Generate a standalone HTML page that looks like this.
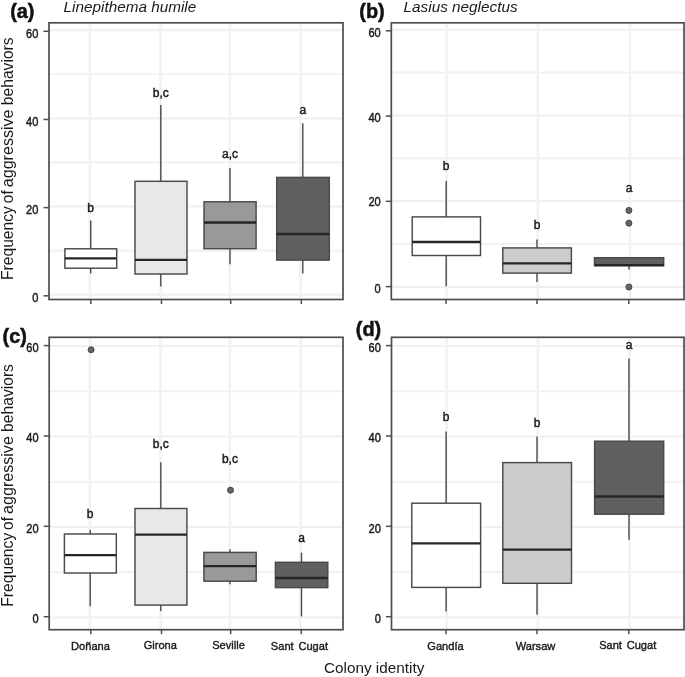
<!DOCTYPE html>
<html><head><meta charset="utf-8"><style>
html,body{margin:0;padding:0;background:#fff;}
svg{display:block;filter:grayscale(1);}
text{font-family:"Liberation Sans",sans-serif;}
</style></head><body>
<svg width="685" height="677" viewBox="0 0 685 677">
<rect width="685" height="677" fill="#fff"/>
<line x1="49.0" y1="250.53" x2="343.0" y2="250.53" stroke="#f2f2f2" stroke-width="2.2"/>
<line x1="49.0" y1="162.40" x2="343.0" y2="162.40" stroke="#f2f2f2" stroke-width="2.2"/>
<line x1="49.0" y1="74.27" x2="343.0" y2="74.27" stroke="#f2f2f2" stroke-width="2.2"/>
<line x1="49.0" y1="294.60" x2="343.0" y2="294.60" stroke="#f0f0f0" stroke-width="2.2"/>
<line x1="49.0" y1="206.47" x2="343.0" y2="206.47" stroke="#f0f0f0" stroke-width="2.2"/>
<line x1="49.0" y1="118.33" x2="343.0" y2="118.33" stroke="#f0f0f0" stroke-width="2.2"/>
<line x1="49.0" y1="30.20" x2="343.0" y2="30.20" stroke="#f0f0f0" stroke-width="2.2"/>
<line x1="89.8" y1="22.8" x2="89.8" y2="299.5" stroke="#f2f2f2" stroke-width="2.6"/>
<line x1="160.5" y1="22.8" x2="160.5" y2="299.5" stroke="#f2f2f2" stroke-width="2.6"/>
<line x1="229.8" y1="22.8" x2="229.8" y2="299.5" stroke="#f2f2f2" stroke-width="2.6"/>
<line x1="300.5" y1="22.8" x2="300.5" y2="299.5" stroke="#f2f2f2" stroke-width="2.6"/>
<line x1="90.7" y1="220.5" x2="90.7" y2="273.5" stroke="#4a4a4a" stroke-width="1.4"/>
<rect x="64.9" y="248.8" width="51.80" height="19.40" fill="#ffffff" stroke="#4a4a4a" stroke-width="1.45"/>
<line x1="64.9" y1="258.40000000000003" x2="116.7" y2="258.40000000000003" stroke="#262626" stroke-width="2.3"/>
<text x="90.7" y="212.0" text-anchor="middle" font-size="12" fill="#1a1a1a" stroke="#1a1a1a" stroke-width="0.45">b</text>
<line x1="160.8" y1="105.10000000000001" x2="160.8" y2="286.6" stroke="#4a4a4a" stroke-width="1.4"/>
<rect x="135.0" y="181.3" width="52.00" height="92.70" fill="#e8e8e8" stroke="#4a4a4a" stroke-width="1.45"/>
<line x1="135.0" y1="259.90000000000003" x2="187.0" y2="259.90000000000003" stroke="#262626" stroke-width="2.3"/>
<text x="160.8" y="97.2" text-anchor="middle" font-size="12" fill="#1a1a1a" stroke="#1a1a1a" stroke-width="0.45">b,c</text>
<line x1="230.0" y1="168.0" x2="230.0" y2="264.3" stroke="#4a4a4a" stroke-width="1.4"/>
<rect x="204.0" y="201.8" width="52.10" height="46.90" fill="#999999" stroke="#4a4a4a" stroke-width="1.45"/>
<line x1="204.0" y1="222.5" x2="256.09999999999997" y2="222.5" stroke="#262626" stroke-width="2.3"/>
<text x="230.0" y="157.6" text-anchor="middle" font-size="12" fill="#1a1a1a" stroke="#1a1a1a" stroke-width="0.45">a,c</text>
<line x1="302.8" y1="123.30000000000001" x2="302.8" y2="273.40000000000003" stroke="#4a4a4a" stroke-width="1.4"/>
<rect x="276.7" y="177.4" width="52.60" height="82.70" fill="#606060" stroke="#4a4a4a" stroke-width="1.45"/>
<line x1="276.7" y1="234.0" x2="329.29999999999995" y2="234.0" stroke="#262626" stroke-width="2.3"/>
<text x="302.8" y="113.7" text-anchor="middle" font-size="12" fill="#1a1a1a" stroke="#1a1a1a" stroke-width="0.45">a</text>
<rect x="49.0" y="22.8" width="294.00" height="276.70" fill="none" stroke="#4e4e4e" stroke-width="1.7"/>
<line x1="43.5" y1="295.80" x2="49.0" y2="295.80" stroke="#4e4e4e" stroke-width="1.5"/>
<text transform="translate(38.40,302.05) scale(0.85,1)" text-anchor="end" font-size="13" fill="#1a1a1a" stroke="#1a1a1a" stroke-width="0.45">0</text>
<line x1="43.5" y1="207.63" x2="49.0" y2="207.63" stroke="#4e4e4e" stroke-width="1.5"/>
<text transform="translate(38.40,213.88) scale(0.85,1)" text-anchor="end" font-size="13" fill="#1a1a1a" stroke="#1a1a1a" stroke-width="0.45">20</text>
<line x1="43.5" y1="119.47" x2="49.0" y2="119.47" stroke="#4e4e4e" stroke-width="1.5"/>
<text transform="translate(38.40,125.72) scale(0.85,1)" text-anchor="end" font-size="13" fill="#1a1a1a" stroke="#1a1a1a" stroke-width="0.45">40</text>
<line x1="43.5" y1="31.30" x2="49.0" y2="31.30" stroke="#4e4e4e" stroke-width="1.5"/>
<text transform="translate(38.40,37.55) scale(0.85,1)" text-anchor="end" font-size="13" fill="#1a1a1a" stroke="#1a1a1a" stroke-width="0.45">60</text>
<line x1="90.8" y1="299.5" x2="90.8" y2="304.0" stroke="#4e4e4e" stroke-width="1.5"/>
<line x1="161.5" y1="299.5" x2="161.5" y2="304.0" stroke="#4e4e4e" stroke-width="1.5"/>
<line x1="230.7" y1="299.5" x2="230.7" y2="304.0" stroke="#4e4e4e" stroke-width="1.5"/>
<line x1="301.3" y1="299.5" x2="301.3" y2="304.0" stroke="#4e4e4e" stroke-width="1.5"/>
<line x1="391.3" y1="243.98" x2="684.0" y2="243.98" stroke="#f2f2f2" stroke-width="2.2"/>
<line x1="391.3" y1="158.35" x2="684.0" y2="158.35" stroke="#f2f2f2" stroke-width="2.2"/>
<line x1="391.3" y1="72.72" x2="684.0" y2="72.72" stroke="#f2f2f2" stroke-width="2.2"/>
<line x1="391.3" y1="286.80" x2="684.0" y2="286.80" stroke="#f0f0f0" stroke-width="2.2"/>
<line x1="391.3" y1="201.17" x2="684.0" y2="201.17" stroke="#f0f0f0" stroke-width="2.2"/>
<line x1="391.3" y1="115.53" x2="684.0" y2="115.53" stroke="#f0f0f0" stroke-width="2.2"/>
<line x1="391.3" y1="29.90" x2="684.0" y2="29.90" stroke="#f0f0f0" stroke-width="2.2"/>
<line x1="446.6" y1="22.8" x2="446.6" y2="299.5" stroke="#f2f2f2" stroke-width="2.6"/>
<line x1="537.8" y1="22.8" x2="537.8" y2="299.5" stroke="#f2f2f2" stroke-width="2.6"/>
<line x1="630.0" y1="22.8" x2="630.0" y2="299.5" stroke="#f2f2f2" stroke-width="2.6"/>
<line x1="446.2" y1="181.1" x2="446.2" y2="286.2" stroke="#4a4a4a" stroke-width="1.4"/>
<rect x="412.2" y="216.9" width="68.30" height="38.60" fill="#ffffff" stroke="#4a4a4a" stroke-width="1.45"/>
<line x1="412.2" y1="242.0" x2="480.5" y2="242.0" stroke="#262626" stroke-width="2.3"/>
<text x="446.2" y="170.0" text-anchor="middle" font-size="12" fill="#1a1a1a" stroke="#1a1a1a" stroke-width="0.45">b</text>
<line x1="537.0" y1="239.6" x2="537.0" y2="282.1" stroke="#4a4a4a" stroke-width="1.4"/>
<rect x="502.79999999999995" y="247.9" width="68.60" height="25.20" fill="#cccccc" stroke="#4a4a4a" stroke-width="1.45"/>
<line x1="502.79999999999995" y1="263.40000000000003" x2="571.4" y2="263.40000000000003" stroke="#262626" stroke-width="2.3"/>
<text x="537.0" y="229.0" text-anchor="middle" font-size="12" fill="#1a1a1a" stroke="#1a1a1a" stroke-width="0.45">b</text>
<line x1="629.0" y1="257.59999999999997" x2="629.0" y2="269.8" stroke="#4a4a4a" stroke-width="1.4"/>
<rect x="594.5" y="257.7" width="69.20" height="8.00" fill="#606060" stroke="#4a4a4a" stroke-width="1.45"/>
<line x1="594.5" y1="265.2" x2="663.6999999999999" y2="265.2" stroke="#262626" stroke-width="2.3"/>
<text x="629.0" y="191.6" text-anchor="middle" font-size="12" fill="#1a1a1a" stroke="#1a1a1a" stroke-width="0.45">a</text>
<circle cx="628.9" cy="210.4" r="3.0" fill="#666666" stroke="#444444" stroke-width="1.0"/>
<circle cx="628.9" cy="223.2" r="3.0" fill="#666666" stroke="#444444" stroke-width="1.0"/>
<circle cx="628.9" cy="287.0" r="3.0" fill="#666666" stroke="#444444" stroke-width="1.0"/>
<rect x="391.3" y="22.8" width="292.70" height="276.70" fill="none" stroke="#4e4e4e" stroke-width="1.7"/>
<line x1="385.8" y1="286.60" x2="391.3" y2="286.60" stroke="#4e4e4e" stroke-width="1.5"/>
<text transform="translate(380.70,292.85) scale(0.85,1)" text-anchor="end" font-size="13" fill="#1a1a1a" stroke="#1a1a1a" stroke-width="0.45">0</text>
<line x1="385.8" y1="201.33" x2="391.3" y2="201.33" stroke="#4e4e4e" stroke-width="1.5"/>
<text transform="translate(380.70,206.23) scale(0.85,1)" text-anchor="end" font-size="13" fill="#1a1a1a" stroke="#1a1a1a" stroke-width="0.45">20</text>
<line x1="385.8" y1="116.07" x2="391.3" y2="116.07" stroke="#4e4e4e" stroke-width="1.5"/>
<text transform="translate(380.70,122.32) scale(0.85,1)" text-anchor="end" font-size="13" fill="#1a1a1a" stroke="#1a1a1a" stroke-width="0.45">40</text>
<line x1="385.8" y1="30.80" x2="391.3" y2="30.80" stroke="#4e4e4e" stroke-width="1.5"/>
<text transform="translate(380.70,37.05) scale(0.85,1)" text-anchor="end" font-size="13" fill="#1a1a1a" stroke="#1a1a1a" stroke-width="0.45">60</text>
<line x1="446.0" y1="299.5" x2="446.0" y2="304.0" stroke="#4e4e4e" stroke-width="1.5"/>
<line x1="537.0" y1="299.5" x2="537.0" y2="304.0" stroke="#4e4e4e" stroke-width="1.5"/>
<line x1="628.8" y1="299.5" x2="628.8" y2="304.0" stroke="#4e4e4e" stroke-width="1.5"/>
<line x1="49.2" y1="572.25" x2="343.0" y2="572.25" stroke="#f2f2f2" stroke-width="2.2"/>
<line x1="49.2" y1="481.75" x2="343.0" y2="481.75" stroke="#f2f2f2" stroke-width="2.2"/>
<line x1="49.2" y1="391.25" x2="343.0" y2="391.25" stroke="#f2f2f2" stroke-width="2.2"/>
<line x1="49.2" y1="617.50" x2="343.0" y2="617.50" stroke="#f0f0f0" stroke-width="2.2"/>
<line x1="49.2" y1="527.00" x2="343.0" y2="527.00" stroke="#f0f0f0" stroke-width="2.2"/>
<line x1="49.2" y1="436.50" x2="343.0" y2="436.50" stroke="#f0f0f0" stroke-width="2.2"/>
<line x1="49.2" y1="346.00" x2="343.0" y2="346.00" stroke="#f0f0f0" stroke-width="2.2"/>
<line x1="89.8" y1="337.3" x2="89.8" y2="629.7" stroke="#f2f2f2" stroke-width="2.6"/>
<line x1="160.5" y1="337.3" x2="160.5" y2="629.7" stroke="#f2f2f2" stroke-width="2.6"/>
<line x1="229.8" y1="337.3" x2="229.8" y2="629.7" stroke="#f2f2f2" stroke-width="2.6"/>
<line x1="300.5" y1="337.3" x2="300.5" y2="629.7" stroke="#f2f2f2" stroke-width="2.6"/>
<line x1="90.2" y1="529.9" x2="90.2" y2="606.3" stroke="#4a4a4a" stroke-width="1.4"/>
<rect x="64.4" y="534.0" width="51.90" height="39.00" fill="#ffffff" stroke="#4a4a4a" stroke-width="1.45"/>
<line x1="64.4" y1="555.0999999999999" x2="116.30000000000001" y2="555.0999999999999" stroke="#262626" stroke-width="2.3"/>
<text x="90.2" y="517.6" text-anchor="middle" font-size="12" fill="#1a1a1a" stroke="#1a1a1a" stroke-width="0.45">b</text>
<line x1="160.8" y1="462.2" x2="160.8" y2="611.3" stroke="#4a4a4a" stroke-width="1.4"/>
<rect x="135.0" y="508.5" width="51.90" height="96.60" fill="#e8e8e8" stroke="#4a4a4a" stroke-width="1.45"/>
<line x1="135.0" y1="534.6999999999999" x2="186.9" y2="534.6999999999999" stroke="#262626" stroke-width="2.3"/>
<text x="160.8" y="447.6" text-anchor="middle" font-size="12" fill="#1a1a1a" stroke="#1a1a1a" stroke-width="0.45">b,c</text>
<line x1="229.9" y1="549.3" x2="229.9" y2="584.1999999999999" stroke="#4a4a4a" stroke-width="1.4"/>
<rect x="203.9" y="552.4" width="52.30" height="28.80" fill="#999999" stroke="#4a4a4a" stroke-width="1.45"/>
<line x1="203.9" y1="566.0999999999999" x2="256.2" y2="566.0999999999999" stroke="#262626" stroke-width="2.3"/>
<text x="229.9" y="463.2" text-anchor="middle" font-size="12" fill="#1a1a1a" stroke="#1a1a1a" stroke-width="0.45">b,c</text>
<line x1="301.5" y1="552.6" x2="301.5" y2="616.4" stroke="#4a4a4a" stroke-width="1.4"/>
<rect x="275.4" y="562.3" width="52.40" height="25.30" fill="#606060" stroke="#4a4a4a" stroke-width="1.45"/>
<line x1="275.4" y1="578.0" x2="327.79999999999995" y2="578.0" stroke="#262626" stroke-width="2.3"/>
<text x="301.5" y="541.5" text-anchor="middle" font-size="12" fill="#1a1a1a" stroke="#1a1a1a" stroke-width="0.45">a</text>
<circle cx="91.1" cy="349.8" r="3.0" fill="#666666" stroke="#444444" stroke-width="1.0"/>
<circle cx="230.5" cy="490.2" r="3.0" fill="#666666" stroke="#444444" stroke-width="1.0"/>
<rect x="49.2" y="337.3" width="293.80" height="292.40" fill="none" stroke="#4e4e4e" stroke-width="1.7"/>
<line x1="43.7" y1="616.70" x2="49.2" y2="616.70" stroke="#4e4e4e" stroke-width="1.5"/>
<text transform="translate(38.60,622.95) scale(0.85,1)" text-anchor="end" font-size="13" fill="#1a1a1a" stroke="#1a1a1a" stroke-width="0.45">0</text>
<line x1="43.7" y1="526.33" x2="49.2" y2="526.33" stroke="#4e4e4e" stroke-width="1.5"/>
<text transform="translate(38.60,532.58) scale(0.85,1)" text-anchor="end" font-size="13" fill="#1a1a1a" stroke="#1a1a1a" stroke-width="0.45">20</text>
<line x1="43.7" y1="435.97" x2="49.2" y2="435.97" stroke="#4e4e4e" stroke-width="1.5"/>
<text transform="translate(38.60,442.22) scale(0.85,1)" text-anchor="end" font-size="13" fill="#1a1a1a" stroke="#1a1a1a" stroke-width="0.45">40</text>
<line x1="43.7" y1="345.60" x2="49.2" y2="345.60" stroke="#4e4e4e" stroke-width="1.5"/>
<text transform="translate(38.60,351.85) scale(0.85,1)" text-anchor="end" font-size="13" fill="#1a1a1a" stroke="#1a1a1a" stroke-width="0.45">60</text>
<line x1="90.8" y1="629.7" x2="90.8" y2="634.2" stroke="#4e4e4e" stroke-width="1.5"/>
<line x1="161.5" y1="629.7" x2="161.5" y2="634.2" stroke="#4e4e4e" stroke-width="1.5"/>
<line x1="230.7" y1="629.7" x2="230.7" y2="634.2" stroke="#4e4e4e" stroke-width="1.5"/>
<line x1="301.3" y1="629.7" x2="301.3" y2="634.2" stroke="#4e4e4e" stroke-width="1.5"/>
<text transform="translate(90.5,650.4) scale(0.94,1)" text-anchor="middle" font-size="11.8" word-spacing="1.8" fill="#1a1a1a" stroke="#1a1a1a" stroke-width="0.4">Doñana</text>
<text transform="translate(160.3,649.3) scale(0.94,1)" text-anchor="middle" font-size="11.8" word-spacing="1.8" fill="#1a1a1a" stroke="#1a1a1a" stroke-width="0.4">Girona</text>
<text transform="translate(228.5,649.4) scale(0.94,1)" text-anchor="middle" font-size="11.8" word-spacing="1.8" fill="#1a1a1a" stroke="#1a1a1a" stroke-width="0.4">Seville</text>
<text transform="translate(299.4,649.5) scale(0.94,1)" text-anchor="middle" font-size="11.8" word-spacing="1.8" fill="#1a1a1a" stroke="#1a1a1a" stroke-width="0.4">Sant Cugat</text>
<line x1="391.5" y1="572.25" x2="684.0" y2="572.25" stroke="#f2f2f2" stroke-width="2.2"/>
<line x1="391.5" y1="481.75" x2="684.0" y2="481.75" stroke="#f2f2f2" stroke-width="2.2"/>
<line x1="391.5" y1="391.25" x2="684.0" y2="391.25" stroke="#f2f2f2" stroke-width="2.2"/>
<line x1="391.5" y1="617.50" x2="684.0" y2="617.50" stroke="#f0f0f0" stroke-width="2.2"/>
<line x1="391.5" y1="527.00" x2="684.0" y2="527.00" stroke="#f0f0f0" stroke-width="2.2"/>
<line x1="391.5" y1="436.50" x2="684.0" y2="436.50" stroke="#f0f0f0" stroke-width="2.2"/>
<line x1="391.5" y1="346.00" x2="684.0" y2="346.00" stroke="#f0f0f0" stroke-width="2.2"/>
<line x1="446.6" y1="337.3" x2="446.6" y2="629.7" stroke="#f2f2f2" stroke-width="2.6"/>
<line x1="537.8" y1="337.3" x2="537.8" y2="629.7" stroke="#f2f2f2" stroke-width="2.6"/>
<line x1="629.6" y1="337.3" x2="629.6" y2="629.7" stroke="#f2f2f2" stroke-width="2.6"/>
<line x1="446.1" y1="431.59999999999997" x2="446.1" y2="611.5" stroke="#4a4a4a" stroke-width="1.4"/>
<rect x="411.79999999999995" y="503.2" width="68.80" height="84.20" fill="#ffffff" stroke="#4a4a4a" stroke-width="1.45"/>
<line x1="411.79999999999995" y1="543.3" x2="480.59999999999997" y2="543.3" stroke="#262626" stroke-width="2.3"/>
<text x="446.1" y="420.6" text-anchor="middle" font-size="12" fill="#1a1a1a" stroke="#1a1a1a" stroke-width="0.45">b</text>
<line x1="537.0" y1="436.5" x2="537.0" y2="614.8" stroke="#4a4a4a" stroke-width="1.4"/>
<rect x="502.79999999999995" y="462.6" width="68.70" height="120.70" fill="#cccccc" stroke="#4a4a4a" stroke-width="1.45"/>
<line x1="502.79999999999995" y1="549.5999999999999" x2="571.5" y2="549.5999999999999" stroke="#262626" stroke-width="2.3"/>
<text x="537.0" y="426.6" text-anchor="middle" font-size="12" fill="#1a1a1a" stroke="#1a1a1a" stroke-width="0.45">b</text>
<line x1="629.0" y1="358.4" x2="629.0" y2="539.6999999999999" stroke="#4a4a4a" stroke-width="1.4"/>
<rect x="594.6" y="441.2" width="69.10" height="73.00" fill="#606060" stroke="#4a4a4a" stroke-width="1.45"/>
<line x1="594.6" y1="496.5" x2="663.6999999999999" y2="496.5" stroke="#262626" stroke-width="2.3"/>
<text x="629.0" y="349.0" text-anchor="middle" font-size="12" fill="#1a1a1a" stroke="#1a1a1a" stroke-width="0.45">a</text>
<rect x="391.5" y="337.3" width="292.50" height="292.40" fill="none" stroke="#4e4e4e" stroke-width="1.7"/>
<line x1="386.0" y1="616.70" x2="391.5" y2="616.70" stroke="#4e4e4e" stroke-width="1.5"/>
<text transform="translate(380.90,622.95) scale(0.85,1)" text-anchor="end" font-size="13" fill="#1a1a1a" stroke="#1a1a1a" stroke-width="0.45">0</text>
<line x1="386.0" y1="526.33" x2="391.5" y2="526.33" stroke="#4e4e4e" stroke-width="1.5"/>
<text transform="translate(380.90,532.58) scale(0.85,1)" text-anchor="end" font-size="13" fill="#1a1a1a" stroke="#1a1a1a" stroke-width="0.45">20</text>
<line x1="386.0" y1="435.97" x2="391.5" y2="435.97" stroke="#4e4e4e" stroke-width="1.5"/>
<text transform="translate(380.90,442.22) scale(0.85,1)" text-anchor="end" font-size="13" fill="#1a1a1a" stroke="#1a1a1a" stroke-width="0.45">40</text>
<line x1="386.0" y1="345.60" x2="391.5" y2="345.60" stroke="#4e4e4e" stroke-width="1.5"/>
<text transform="translate(380.90,351.85) scale(0.85,1)" text-anchor="end" font-size="13" fill="#1a1a1a" stroke="#1a1a1a" stroke-width="0.45">60</text>
<line x1="446.0" y1="629.7" x2="446.0" y2="634.2" stroke="#4e4e4e" stroke-width="1.5"/>
<line x1="537.0" y1="629.7" x2="537.0" y2="634.2" stroke="#4e4e4e" stroke-width="1.5"/>
<line x1="628.8" y1="629.7" x2="628.8" y2="634.2" stroke="#4e4e4e" stroke-width="1.5"/>
<text transform="translate(445.5,649.5) scale(0.94,1)" text-anchor="middle" font-size="11.8" word-spacing="1.8" fill="#1a1a1a" stroke="#1a1a1a" stroke-width="0.4">Gandía</text>
<text transform="translate(535.5,649.5) scale(0.94,1)" text-anchor="middle" font-size="11.8" word-spacing="1.8" fill="#1a1a1a" stroke="#1a1a1a" stroke-width="0.4">Warsaw</text>
<text transform="translate(627.7,649.3) scale(0.94,1)" text-anchor="middle" font-size="11.8" word-spacing="1.8" fill="#1a1a1a" stroke="#1a1a1a" stroke-width="0.4">Sant Cugat</text>
<text x="10.2" y="17.8" font-size="19.9" font-weight="bold" fill="#111" stroke="#111" stroke-width="0.5">(a)</text>
<text x="359.3" y="17.8" font-size="19.9" font-weight="bold" fill="#111" stroke="#111" stroke-width="0.5">(b)</text>
<text x="2.6" y="342.6" font-size="19.9" font-weight="bold" fill="#111" stroke="#111" stroke-width="0.5">(c)</text>
<text x="355.8" y="335.6" font-size="19.9" font-weight="bold" fill="#111" stroke="#111" stroke-width="0.5">(d)</text>
<text x="63.6" y="11.8" font-size="15.3" font-style="italic" fill="#1a1a1a">Linepithema humile</text>
<text x="403.6" y="11.8" font-size="15.3" font-style="italic" fill="#1a1a1a">Lasius neglectus</text>
<text transform="translate(12.9,280.00) rotate(-90) scale(1.0,1)" font-size="15.65" fill="#1a1a1a">Frequency</text>
<text transform="translate(12.9,203.20) rotate(-90) scale(1.0,1)" font-size="15.65" fill="#1a1a1a">of</text>
<text transform="translate(12.9,187.20) rotate(-90) scale(1.028,1)" font-size="15.65" fill="#1a1a1a">aggressive</text>
<text transform="translate(12.9,105.20) rotate(-90) scale(1.0,1)" font-size="15.65" fill="#1a1a1a">behaviors</text>
<text transform="translate(13.1,606.70) rotate(-90) scale(1.0,1)" font-size="15.65" fill="#1a1a1a">Frequency</text>
<text transform="translate(13.1,529.90) rotate(-90) scale(1.0,1)" font-size="15.65" fill="#1a1a1a">of</text>
<text transform="translate(13.1,513.90) rotate(-90) scale(1.028,1)" font-size="15.65" fill="#1a1a1a">aggressive</text>
<text transform="translate(13.1,431.90) rotate(-90) scale(1.0,1)" font-size="15.65" fill="#1a1a1a">behaviors</text>
<text x="324" y="672.6" font-size="15.3" fill="#1a1a1a">Colony identity</text>
</svg>
</body></html>
